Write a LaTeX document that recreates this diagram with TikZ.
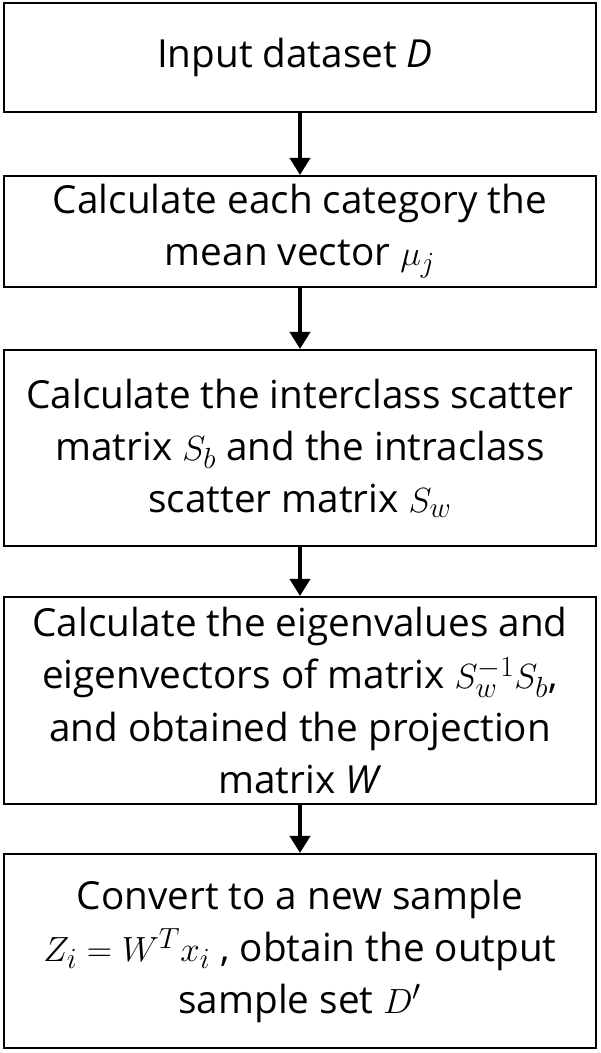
\documentclass[tikz,border=0pt]{standalone}
\usepackage{fontspec}
\setmainfont{Open Sans}
\usetikzlibrary{arrows.meta}
\begin{document}
\begin{tikzpicture}[x=0.025cm, y=-0.025cm,
    stepbox/.style={draw, line width=1.4pt, minimum width=14.8cm, align=center, inner sep=0pt, font=\fontsize{27.5}{37}\selectfont},
    flow/.style={line width=3.5pt, -{Triangle[width=0.5cm,length=0.43cm]}}]
    \useasboundingbox (0,0) rectangle (600,1053);
    \node (input) [stepbox, minimum height=2.725cm] at (300, 57.5) { Input dataset \textit{D} };
    \node (mean) [stepbox, minimum height=2.775cm] at (300, 231.5) { Calculate each category the \\ mean vector $\mu_j$ };
    \node (scatter) [stepbox, minimum height=4.9cm] at (300, 448) { Calculate the interclass scatter \\ matrix $S_b$ and the intraclass \\ scatter matrix $S_w$ };
    \node (eigen) [stepbox, minimum height=5.175cm] at (300, 700.5) { Calculate the eigenvalues and \\ eigenvectors of matrix $S_w^{-1}S_b$, \\ and obtained the projection \\ matrix \textit{W} };
    \node (output) [stepbox, minimum height=4.85cm] at (300, 951) { Convert to a new sample \\ $Z_i = W^T x_i$ , obtain the output \\ sample set $D'$ };

    \draw [flow] (input) -- (mean);
    \draw [flow] (mean) -- (scatter);
    \draw [flow] (scatter) -- (eigen);
    \draw [flow] (eigen) -- (output);
\end{tikzpicture}
\end{document}
